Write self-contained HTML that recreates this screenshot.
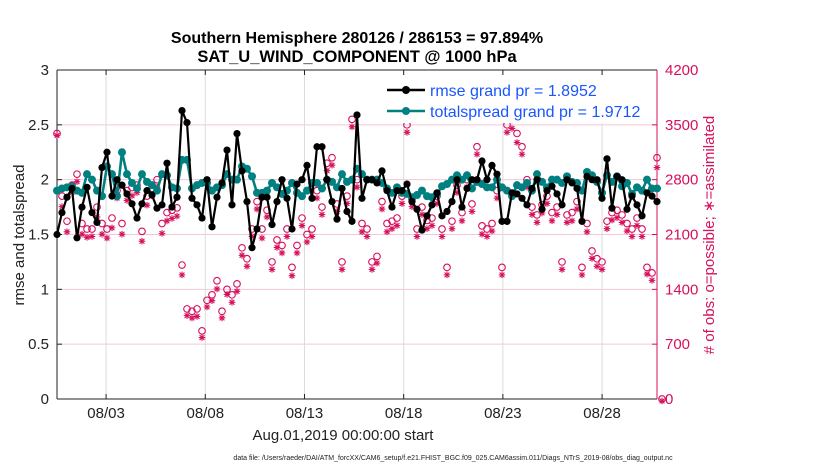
<!DOCTYPE html>
<html><head><meta charset="utf-8"><style>
body{margin:0;background:#fff;font-family:"Liberation Sans",sans-serif}
svg text{font-family:"Liberation Sans",sans-serif}
</style></head><body>
<svg id="c" width="830" height="470"></svg>
<script>
const rmse=[1.5,1.7,1.84,1.92,1.47,1.75,1.93,1.7,1.61,2.11,2.25,1.85,2.0,1.95,1.87,1.78,1.65,1.78,1.9,1.86,1.74,1.77,2.15,1.75,1.84,2.63,2.52,1.83,1.77,1.65,2.0,
1.57,1.84,1.97,2.27,1.77,2.42,2.08,1.80,1.38,1.55,1.84,1.84,1.59,1.8,2.0,1.83,1.55,1.96,2.0,2.13,1.83,2.30,2.30,2.0,1.8,1.64,1.92,1.71,1.62,2.59,
1.83,2.0,2.0,1.97,2.08,1.9,1.75,1.9,1.9,1.96,1.8,1.73,1.54,1.67,1.77,1.88,1.67,1.71,1.8,2.0,1.75,1.92,2.0,2.0,2.17,2.0,2.13,2.05,1.62,1.62,
1.88,1.87,1.83,1.77,1.92,2.0,1.73,1.9,1.94,1.87,1.77,2.0,1.97,1.92,1.62,2.03,2.0,2.0,1.83,2.19,1.74,2.03,2.0,1.73,1.85,1.77,1.67,1.88,1.85,1.8];
const spread=[1.9,1.92,1.93,1.94,1.9,1.88,2.05,2.0,1.9,1.85,2.12,2.05,1.85,2.25,2.05,1.97,1.92,2.05,1.98,1.95,1.9,2.05,2.04,1.93,1.92,2.18,2.18,1.92,1.95,1.97,1.97,
1.9,1.93,1.95,2.05,2.0,2.0,2.12,2.1,2.03,1.88,1.88,1.9,1.97,1.93,1.87,1.9,1.97,1.88,1.85,1.9,1.97,1.97,1.92,2.0,1.98,1.93,2.05,1.98,2.0,2.1,
2.05,2.0,2.0,2.0,1.97,1.92,1.88,1.93,1.88,1.87,1.84,1.86,1.9,1.85,1.84,1.87,1.94,1.96,2.0,2.04,2.0,2.04,1.92,1.98,1.96,1.93,1.93,2.0,1.93,1.9,
1.85,1.95,1.93,1.97,1.9,2.05,1.98,1.93,2.0,2.0,1.97,2.03,1.98,1.97,1.9,2.07,2.04,1.98,1.88,2.04,1.98,2.03,1.94,1.97,1.87,1.93,1.9,2.0,1.92,1.92];
const obsPossible=[3390,2590,2270,2730,2870,2240,2170,2170,2450,2240,2170,2310,2660,2240,2660,2700,2730,2140,2590,2690,2800,2240,2380,2410,2440,1710,1150,1120,1150,870,1260,
1330,1510,1120,1400,1330,1470,1930,1790,2170,2520,2170,2410,1750,2030,1960,2170,1680,1960,2310,2100,2170,2660,2450,3010,3080,2490,1750,2590,3570,2800,
2240,2170,1750,1820,2520,2240,2270,2310,2590,3500,2550,2170,2450,2280,2310,2590,2170,1680,2270,2730,2380,2800,2490,3220,2210,2170,2240,2660,1680,3500,
3570,3390,3220,2800,2450,2350,2480,2590,2380,2450,1750,2350,2380,2520,1680,2240,1890,1790,1750,2270,2380,2410,2350,2240,2170,2310,2170,1680,1610,3080,0];
const obsAssim=[3390,2480,2160,2660,2800,2130,2090,2100,2350,2130,2080,2210,2590,2130,2560,2620,2660,2040,2500,2620,2730,2140,2300,2330,2360,1610,1090,1060,1080,810,1200,
1280,1430,1060,1360,1260,1400,1860,1720,2100,2450,2080,2350,1680,1960,1890,2100,1600,1890,2240,2030,2100,2590,2380,2940,3010,2420,1680,2520,3500,2730,
2160,2100,1680,1760,2450,2160,2200,2240,2520,3430,2480,2100,2380,2200,2240,2520,2100,1610,2200,2660,2300,2730,2420,3150,2130,2100,2170,2590,1610,3430,
3480,3300,3150,2730,2380,2280,2400,2520,2300,2380,1680,2280,2300,2450,1610,2160,1820,1720,1680,2200,2310,2340,2280,2170,2100,2240,2100,1620,1540,2980,0];
const leftTicks=["0","0.5","1","1.5","2","2.5","3"];
const rightTicks=["0","700","1400","2100","2800","3500","4200"];
const dateLabels=["08/03","08/08","08/13","08/18","08/23","08/28"];
const dateDays=[3,8,13,18,23,28];

const NS="http://www.w3.org/2000/svg",svg=document.getElementById('c');
const X0=57,X1=657,Y0=399,Y1=70,PINK="#d6105c";
const xi=i=>X0+i*(X1-X0)/120;
const xd=d=>66.4+(d-1)*19.84;
const yl=v=>Y0-v*(Y0-Y1)/3;
const yr=n=>Y0-n*(Y0-Y1)/4200;
function el(t,a,p){const e=document.createElementNS(NS,t);for(const k in a)e.setAttribute(k,a[k]);(p||svg).appendChild(e);return e;}
function tx(s,a){const e=el('text',a);e.textContent=s;return e;}

leftTicks.forEach((t,k)=>{const y=yl(k*0.5);
 const g=el('line',{x1:X0,x2:X1,y1:y,y2:y,stroke:"#f4c6d6","stroke-width":1});
 
 el('line',{x1:X0,x2:X0+5,y1:y,y2:y,stroke:"#222"});
 el('line',{x1:X1-5,x2:X1,y1:y,y2:y,stroke:PINK});
 const lt=tx(t,{x:X0-8,y:y+5,"text-anchor":"end","font-size":15,fill:"#222"});
 
 const rt=tx(rightTicks[k],{x:X1+8,y:y+5,"font-size":15,fill:PINK});
 
});
dateDays.forEach((d,k)=>{const x=xd(d);
 const g=el('line',{x1:x,x2:x,y1:Y1,y2:Y0,stroke:"#dcdcdc"});
 
 el('line',{x1:x,x2:x,y1:Y0,y2:Y0-5,stroke:"#222"});
 el('line',{x1:x,x2:x,y1:Y1,y2:Y1+5,stroke:"#222"});
 const t=tx(dateLabels[k],{x:x,y:418,"text-anchor":"middle","font-size":15,fill:"#222"});
 
});
el('line',{x1:X0,x2:X1,y1:Y1,y2:Y1,stroke:"#222"});
el('line',{x1:X0,x2:X1,y1:Y0,y2:Y0,stroke:"#222"});
el('line',{x1:X0,x2:X0,y1:Y1,y2:Y0,stroke:"#222"});
el('line',{x1:X1,x2:X1,y1:Y1,y2:Y0,stroke:PINK});

const og=el('g',{});
obsPossible.forEach((n,i)=>{const c=el('circle',{cx:xi(i),cy:yr(n),r:3.3,fill:"none",stroke:PINK,"stroke-width":1.1},og);
 });
obsAssim.forEach((n,i)=>{const x=xi(i),y=yr(n)+2;
 const p=el('path',{d:`M${x-3.3} ${y}H${x+3.3}M${x} ${y-3.3}V${y+3.3}M${x-2.4} ${y-2.4}L${x+2.4} ${y+2.4}M${x-2.4} ${y+2.4}L${x+2.4} ${y-2.4}`,stroke:PINK,"stroke-width":1.1},og);
 });

function series(arr,col,lw,r,name){
 const pl=el('polyline',{points:arr.map((v,i)=>xi(i)+","+yl(v)).join(" "),fill:"none",stroke:col,"stroke-width":lw,"stroke-linejoin":"round"});
 
 arr.forEach((v,i)=>{const c=el('circle',{cx:xi(i),cy:yl(v),r:r,fill:col});
  });
}
series(spread,"#008080",2.6,4,"totalspread");
series(rmse,"#000",2.2,3.6,"rmse");

const lg=el('g',{});
el('rect',{x:384,y:75,width:268,height:48,fill:"#fff"},lg);
[["#000","rmse grand pr = 1.8952",90],["#008080","totalspread grand pr = 1.9712",111]].forEach(([c,s,y])=>{
 el('line',{x1:387,x2:425,y1:y,y2:y,stroke:c,"stroke-width":2.6},lg);
 el('circle',{cx:406,cy:y,r:4,fill:c},lg);
 const t=tx(s,{x:430,y:y+6,"font-size":16,fill:"#1a55ff"});lg.appendChild(t);
 
});

let t=tx("Southern Hemisphere 280126 / 286153 = 97.894%",{x:357,y:43,"text-anchor":"middle","font-size":16,"font-weight":"bold",fill:"#000"});

t=tx("SAT_U_WIND_COMPONENT @ 1000 hPa",{x:357,y:62,"text-anchor":"middle","font-size":16.5,"font-weight":"bold",fill:"#000"});

t=tx("rmse and totalspread",{x:0,y:0,"text-anchor":"middle","font-size":15,fill:"#222",transform:"translate(24,235) rotate(-90)"});

t=tx("# of obs: o=possible; \u2217=assimilated",{x:0,y:0,"text-anchor":"middle","font-size":15,fill:PINK,transform:"translate(714,235) rotate(-90)"});

t=tx("Aug.01,2019 00:00:00 start",{x:343,y:440,"text-anchor":"middle","font-size":15,fill:"#222"});

t=tx("data file: /Users/raeder/DAI/ATM_forcXX/CAM6_setup/f.e21.FHIST_BGC.f09_025.CAM6assim.011/Diags_NTrS_2019-08/obs_diag_output.nc",{x:453,y:460,"text-anchor":"middle","font-size":7,fill:"#222"});

</script>
</body></html>
